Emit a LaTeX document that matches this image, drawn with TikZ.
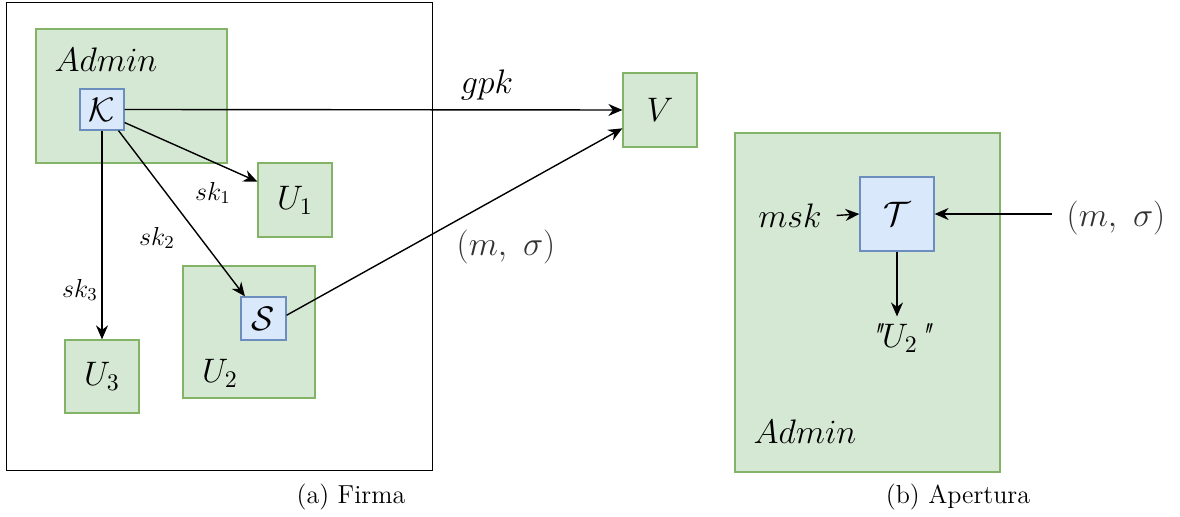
\documentclass[tikz,border=0pt]{standalone}
\usepackage{fix-cm}
\usepackage{amsmath,amssymb}
\usepackage{fontspec}
\usepackage{tikz}
\usetikzlibrary{arrows.meta,calc}

\definecolor{greenfill}{HTML}{D5E8D4}
\definecolor{greenline}{HTML}{82B366}
\definecolor{bluefill}{HTML}{DAE8FC}
\definecolor{blueline}{HTML}{6C8EBF}

\begin{document}
\begin{tikzpicture}[x=0.5pt,y=-0.5pt,
		party/.style={draw=greenline,fill=greenfill,line width=0.6pt,inner sep=0pt},
		algo/.style={draw=blueline,fill=bluefill,line width=0.6pt,inner sep=0pt},
		frame/.style={draw=black,line width=0.5pt,inner sep=0pt},
		big/.style={font=\fontsize{17}{20}\selectfont},
		small/.style={font=\fontsize{13}{15}\selectfont},
		capt/.style={font=\fontsize{13}{15}\selectfont},
		arr/.style={-{Stealth[length=7pt,width=6pt]},line width=0.7pt}]
				\useasboundingbox (0,0) rectangle (1180,517);
				\node[frame,minimum width=213pt,minimum height=234pt] (frameA) at (219,237) {};
				\node[party,minimum width=95.5pt,minimum height=67pt] (adminA) at (131.5,96) {};
				\node[big] (adminAtxt) at (106,60) {$Admin$};
				\node[algo,big,minimum width=22pt,minimum height=20.5pt] (keyK) at (102,109.5) {$\mathcal{K}$};
				\node[party,big,minimum width=37pt,minimum height=37pt] (userA) at (295,200) {$U_1$};
				\node[party,minimum width=66pt,minimum height=66pt] (userB) at (249,332) {};
				\node[big] (userBtxt) at (220,373) {$U_2$};
				\node[algo,big,minimum width=22.5pt,minimum height=21.5pt] (signS) at (263.5,318.5) {$\mathcal{S}$};
				\node[party,big,minimum width=37pt,minimum height=36.5pt] (userC) at (102,376.5) {$U_3$};
				\node[party,big,minimum width=37pt,minimum height=37pt] (verV) at (660,110) {$V$};
				\node[party,minimum width=132.5pt,minimum height=169.5pt] (adminB) at (867.5,302.5) {};
				\node[big] (adminBtxt) at (805,432) {$Admin$};
				\node[algo,big,minimum width=37pt,minimum height=37pt] (traceT) at (897,214) {$\mathcal{T}$};
				\node[big] (mskL) at (790,216) {$msk$};
				\node[big,black!80] (msgR) at (1116,218) {$(m,\ \sigma)$};
				\node[big] (outU) at (900,338) {{\itshape\textquotedbl}$U_2${\itshape\textquotedbl}};
				\node[big] (gpkL) at (487,85) {$gpk$};
				\node[big,black!80] (msgM) at (506,247) {$(m,\ \sigma)$};
				\node[small] (skA) at (213,193) {$sk_1$};
				\node[small] (skB) at (157,238) {$sk_2$};
				\node[small] (skC) at (80,290) {$sk_3$};
				\node[capt] (capA) at (351,497) {(a) Firma};
				\node[capt] (capB) at (958,497) {(b) Apertura};
				\draw[arr] (keyK.east) -- (verV.west);
				\draw[arr] (keyK.-30) -- (userA.154);
				\draw[arr] (keyK.-52) -- (signS.130);
				\draw[arr] (keyK.south) -- (userC.north);
				\draw[arr] (signS.8) -- (verV.-154);
				\draw[arr,shorten <=4pt] (mskL.east) -- (traceT.west);
				\draw[arr,shorten <=4pt] (msgR.west |- traceT.east) -- (traceT.east);
				\draw[arr] (traceT.south) -- (traceT.south |- outU.north);
		\end{tikzpicture}
\end{document}
